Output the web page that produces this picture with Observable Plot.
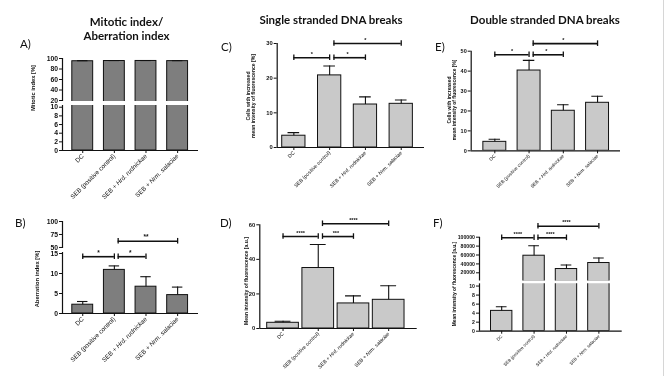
<!DOCTYPE html>
<html>
<head>
<meta charset="utf-8">
<script src="https://cdn.jsdelivr.net/npm/d3@7"></script>
<script src="https://cdn.jsdelivr.net/npm/@observablehq/plot@0.6"></script>
<style>
  html, body { margin: 0; padding: 0; background: #fff; }
  #page { position: relative; width: 669px; height: 376px; overflow: hidden; background: #fff; }
  /* each chart layer is its own composited layer so tiny glyphs get grayscale antialiasing */
  #page svg { position: absolute; left: 0; top: 0; will-change: transform; }
</style>
</head>
<body>
<div id="page"></div>
<script>
// Treatment groups shared by every panel
const groups = ["DC", "SEB (positive control)", "SEB + Hrd. rudnickae", "SEB + Nrm. salaciae"];

// A) Mitotic index [%] (mean, mean + SD)
const mitoticMean = [94.8, 95.2, 95.3, 95.0];
const mitoticErr = [95.8, 96.1, 96.1, 95.9];
const mitoticTicksUpper = [20, 40, 60, 80, 100];
const mitoticTicksLower = [0, 2, 4, 6, 8, 10];

// B) Aberration index [%]
const aberrationMean = [2.2, 10.9, 6.7, 4.6];
const aberrationErr = [3.0, 11.9, 9.2, 6.6];
const aberrationSig = [
  {from: 0, to: 1, y: 14.2, label: "*"},
  {from: 1, to: 2, y: 14.2, label: "*"},
  {from: 1, to: 3, y: 62, label: "**"}
];
const aberrationTicksUpper = [50, 75, 100];
const aberrationTicksLower = [0, 5, 10, 15];

// C) Single stranded breaks: cells with increased fluorescence [%]
const ssbCellsMean = [3.4, 20.8, 12.4, 12.6];
const ssbCellsErr = [4.3, 23.5, 14.6, 13.7];
const ssbCellsSig = [
  {from: 0, to: 1, y: 25.9, label: "*"},
  {from: 1, to: 2, y: 25.9, label: "*"},
  {from: 1, to: 3, y: 30, label: "*"}
];
const ssbCellsTicks = [0, 10, 20, 30];

// D) Single stranded breaks: mean intensity [a.u.]
const ssbIntensityMean = [3.3, 35.0, 14.5, 16.6];
const ssbIntensityErr = [4.2, 48.6, 18.9, 24.7];
const ssbIntensitySig = [
  {from: 0, to: 1, y: 53.2, label: "****"},
  {from: 1, to: 2, y: 53.2, label: "***"},
  {from: 1, to: 3, y: 60.6, label: "****"}
];
const ssbIntensityTicks = [0, 20, 40, 60];

// E) Double stranded breaks: cells with increased fluorescence [%]
const dsbCellsMean = [4.5, 40.3, 20.1, 24.1];
const dsbCellsErr = [5.8, 45.4, 23.1, 27.4];
const dsbCellsSig = [
  {from: 0, to: 1, y: 48.2, label: "*"},
  {from: 1, to: 2, y: 48.2, label: "*"},
  {from: 1, to: 3, y: 53.8, label: "*"}
];
const dsbCellsTicks = [0, 10, 20, 30, 40, 50];

// F) Double stranded breaks: mean intensity [a.u.]
const dsbIntensityMean = [4.5, 58400, 28500, 42000];
const dsbIntensityErr = [5.4, 80900, 37500, 53300];
const dsbIntensitySig = [
  {from: 0, to: 1, y: 98600, label: "****"},
  {from: 1, to: 2, y: 98600, label: "****"},
  {from: 1, to: 3, y: 124700, label: "****"}
];
const dsbIntensityTicksUpper = [20000, 40000, 60000, 80000, 100000];
const dsbIntensityTicksLower = [0, 2, 4, 6, 8, 10];

// ---- layout & style ----
const W = 669, H = 376;
const darkFill = "#7e7e7e", lightFill = "#c9c9c9", ink = "#111";
const junctionGap = 0.12; // brackets leaving a bar that another bracket ends on start a little to the right

const panels = [
  { // A
    mean: mitoticMean, err: mitoticErr, sig: [], fill: darkFill,
    left: 62, right: 198, xDomain: [-0.64, 3.66], barWidth: 0.66,
    yFont: 6.8, xFont: 6.3,
    segments: [
      {top: 58, bottom: 101, domain: [18.1, 100], ticks: mitoticTicksUpper},
      {top: 105, bottom: 150, domain: [0, 10.4], ticks: mitoticTicksLower}
    ]
  },
  { // B
    mean: aberrationMean, err: aberrationErr, sig: aberrationSig, fill: darkFill,
    left: 62, right: 198, xDomain: [-0.64, 3.66], barWidth: 0.66,
    yFont: 6.8, xFont: 6.3, starFont: 6.5,
    segments: [
      {top: 221, bottom: 248, domain: [48, 100], ticks: aberrationTicksUpper},
      {top: 252, bottom: 313, domain: [0, 15.25], ticks: aberrationTicksLower}
    ]
  },
  { // C
    mean: ssbCellsMean, err: ssbCellsErr, sig: ssbCellsSig, fill: lightFill,
    left: 276.7, right: 424, xDomain: [-0.465, 3.65], barWidth: 0.65,
    yFont: 5.8, xFont: 5.1, starFont: 5.5,
    segments: [{top: 43, bottom: 147, domain: [0, 30], ticks: ssbCellsTicks}]
  },
  { // D
    mean: ssbIntensityMean, err: ssbIntensityErr, sig: ssbIntensitySig, fill: lightFill,
    left: 259.3, right: 416.7, xDomain: [-0.66, 3.81], barWidth: 0.9,
    yFont: 5.8, xFont: 5.1, starFont: 5.5,
    segments: [{top: 224.3, bottom: 328, domain: [0, 60], ticks: ssbIntensityTicks}]
  },
  { // E
    mean: dsbCellsMean, err: dsbCellsErr, sig: dsbCellsSig, fill: lightFill,
    left: 470.7, right: 620, xDomain: [-0.69, 3.67], barWidth: 0.67,
    yFont: 5.5, xFont: 4.7, starFont: 5.5,
    segments: [{top: 50.7, bottom: 150.3, domain: [0, 50], ticks: dsbCellsTicks}]
  },
  { // F
    mean: dsbIntensityMean, err: dsbIntensityErr, sig: dsbIntensitySig, fill: lightFill,
    left: 479, right: 621.7, xDomain: [-0.685, 3.72], barWidth: 0.66,
    yFont: 5.2, xFont: 4.4, starFont: 5.5,
    segments: [
      {top: 236.7, bottom: 280.5, domain: [1600, 100000], ticks: dsbIntensityTicksUpper},
      {top: 283.3, bottom: 330.7, domain: [0, 10.5], ticks: dsbIntensityTicksLower}
    ]
  }
];

const page = document.getElementById("page");
const SVGNS = "http://www.w3.org/2000/svg";

function styleAxes(svg, p) {
  svg.querySelectorAll('[aria-label^="y-axis"] text').forEach(t => {
    t.style.fontSize = p.yFont + "px";
    t.style.fontWeight = "bold";
  });
  svg.querySelectorAll('[aria-label^="x-axis"] text').forEach(t => {
    t.style.fontSize = p.xFont + "px";
    const m = t.textContent.match(/^(SEB \+ )(.+)$/);
    if (m) {
      t.textContent = "";
      const a = document.createElementNS(SVGNS, "tspan");
      a.textContent = m[1];
      const b = document.createElementNS(SVGNS, "tspan");
      b.setAttribute("font-style", "italic");
      b.textContent = m[2];
      t.append(a, b);
    }
  });
}

function drawSegment(p, seg, isLowest) {
  // only bars and whiskers that reach into this segment of the broken axis
  const rows = groups.map((g, i) => ({i, mean: p.mean[i], err: p.err[i]}));
  const bars = rows.filter(d => d.mean > seg.domain[0]);
  const whiskers = rows.filter(d => d.err > seg.domain[0] && d.mean < seg.domain[1]);
  const half = p.barWidth / 2, cap = p.barWidth / 4;
  // a bracket lives in the highest segment whose lower bound it clears
  const sig = p.sig.filter(s => p.segments.find(sg => s.y >= sg.domain[0]) === seg);
  const startOf = s => s.from + (p.sig.some(o => o.to === s.from) ? junctionGap : 0);
  const ends = sig.flatMap(s => [{x: startOf(s), y: s.y}, {x: s.to, y: s.y}]);
  const marks = [
    Plot.rect(bars, {x1: d => d.i - half, x2: d => d.i + half, y1: d => 0, y2: "mean",
      fill: p.fill, stroke: ink, strokeWidth: 1, clip: true}),
    Plot.ruleX(whiskers, {x: "i", y1: "mean", y2: "err", stroke: ink, strokeWidth: 1.1, clip: true}),
    Plot.ruleY(whiskers, {x1: d => d.i - cap, x2: d => d.i + cap, y: "err", stroke: ink, strokeWidth: 1.1, clip: true}),
    Plot.ruleX([p.xDomain[0]], {stroke: ink, strokeWidth: 1.2}),
    Plot.ruleY(sig, {x1: startOf, x2: "to", y: "y", stroke: ink, strokeWidth: 1.6}),
    Plot.ruleX(ends, {x: "x", y1: "y", y2: "y", insetTop: -2.8, insetBottom: -2.8, stroke: ink, strokeWidth: 1.3}),
    Plot.text(sig, {x: s => (s.from + s.to) / 2, y: "y", text: "label", dy: -2, lineAnchor: "bottom",
      fontSize: p.starFont || 5, fontWeight: "bold", fill: ink})
  ];
  if (isLowest) marks.push(Plot.ruleY([seg.domain[0]], {stroke: ink, strokeWidth: 1.2}));
  const svg = Plot.plot({
    width: W, height: H,
    marginLeft: p.left, marginRight: W - p.right,
    marginTop: seg.top, marginBottom: H - seg.bottom,
    style: {background: "transparent", overflow: "visible", fontFamily: "'Liberation Sans', Arial, sans-serif", color: ink},
    x: isLowest
      ? {type: "linear", domain: p.xDomain, ticks: [0, 1, 2, 3], tickFormat: i => groups[i],
         tickRotate: -45, tickSize: 3, tickPadding: 1.5, label: null}
      : {type: "linear", domain: p.xDomain, axis: null},
    y: {type: "linear", domain: seg.domain, ticks: seg.ticks, tickFormat: d => String(d),
        tickSize: 3, tickPadding: 1.5, label: null},
    marks
  });
  styleAxes(svg, p);
  page.appendChild(svg);
}

for (const p of panels) {
  p.segments.forEach((seg, k) => drawSegment(p, seg, k === p.segments.length - 1));
}

// ---- titles, panel letters and axis titles ----
const overlay = d3.select(page).append("svg").attr("width", W).attr("height", H)
  .style("background", "transparent");

overlay.append("line").attr("x1", 663.5).attr("x2", 663.5).attr("y1", 0).attr("y2", H)
  .attr("stroke", "#d6d6d6").attr("stroke-width", 1);

const titles = [
  {text: "Mitotic index/", x: 126.5, y: 26},
  {text: "Aberration index", x: 126.5, y: 40},
  {text: "Single stranded DNA breaks", x: 331, y: 24},
  {text: "Double stranded DNA breaks", x: 545, y: 24}
];
overlay.selectAll("text.title").data(titles).join("text").attr("class", "title")
  .attr("x", d => d.x).attr("y", d => d.y).attr("text-anchor", "middle")
  .style("font", "bold 11.5px Lato, 'Open Sans', sans-serif").attr("fill", ink)
  .text(d => d.text);

const letters = [
  {text: "A)", x: 20, y: 48}, {text: "B)", x: 15, y: 227},
  {text: "C)", x: 221, y: 51}, {text: "D)", x: 220, y: 227},
  {text: "E)", x: 435, y: 51}, {text: "F)", x: 433, y: 227}
];
overlay.selectAll("text.letter").data(letters).join("text").attr("class", "letter")
  .attr("x", d => d.x).attr("y", d => d.y)
  .style("font", "11.5px Lato, 'Open Sans', sans-serif").attr("fill", ink)
  .text(d => d.text);

const yTitles = [
  {lines: ["Mitotic index [%]"], x: 33, y: 88, size: 5.8},
  {lines: ["Aberration index [%]"], x: 37, y: 279, size: 5.8},
  {lines: ["Cells with increased", "mean intensity of fluorescence [%]"], x: 250.8, y: 96, size: 5.1},
  {lines: ["Mean intensity of fluorescence [a.u.]"], x: 245.7, y: 281, size: 5.1},
  {lines: ["Cells with increased", "mean intensity of fluorescence [%]"], x: 452, y: 100, size: 4.9},
  {lines: ["Mean intensity of fluorescence [a.u.]"], x: 454, y: 284, size: 4.9}
];
yTitles.forEach(d => {
  const t = overlay.append("text")
    .attr("transform", `translate(${d.x},${d.y}) rotate(-90)`)
    .attr("text-anchor", "middle")
    .style("font", `bold ${d.size}px 'Liberation Sans', Arial, sans-serif`).attr("fill", ink);
  const n = d.lines.length, lh = d.size * 1.0;
  d.lines.forEach((line, k) => {
    t.append("tspan").attr("x", 0).attr("y", (k - (n - 1) / 2) * lh)
      .attr("dominant-baseline", "central").text(line);
  });
});
</script>
</body>
</html>
